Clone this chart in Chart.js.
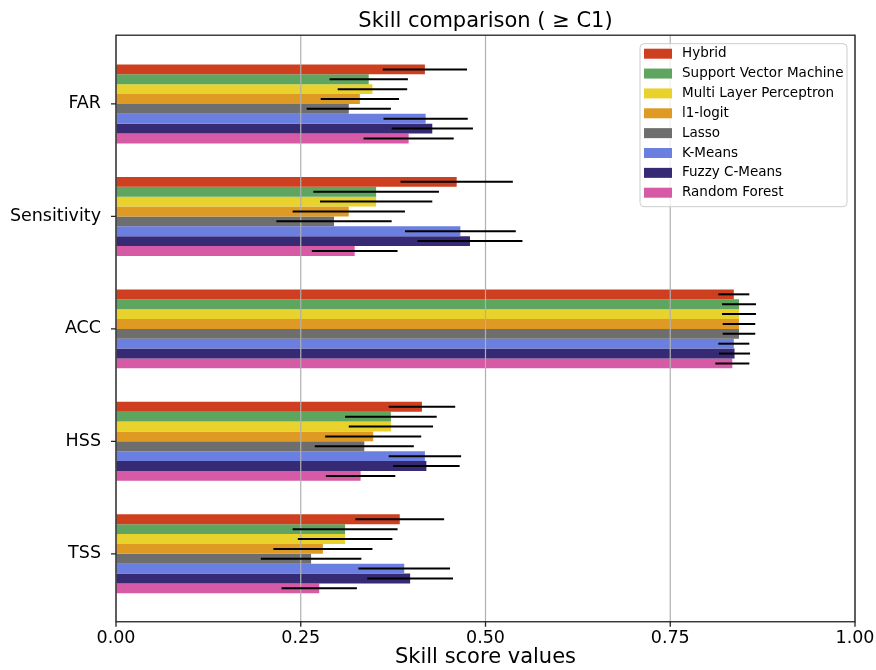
<!DOCTYPE html>
<html>
<head>
<meta charset="utf-8">
<script src="https://cdn.jsdelivr.net/npm/chart.js@4.4.1/dist/chart.umd.min.js"></script>
<style>
  html, body { margin: 0; padding: 0; background: #ffffff; }
  #wrap { width: 876px; height: 670px; }
</style>
</head>
<body>
<div id="wrap"><canvas id="chart" width="876" height="670"></canvas></div>
<script>
const categories = ['FAR', 'Sensitivity', 'ACC', 'HSS', 'TSS'];
const methods = ['Hybrid', 'Support Vector Machine', 'Multi Layer Perceptron', 'l1-logit',
                 'Lasso', 'K-Means', 'Fuzzy C-Means', 'Random Forest'];
const colors = ['#cd3f1f', '#5ea65f', '#e9d22c', '#df9a24', '#6e6e6e', '#6a7fe0', '#372a74', '#d65aa6'];

// scores per method, same order as categories
const hybrid   = [0.418, 0.461, 0.836, 0.414, 0.384];
const svm      = [0.342, 0.352, 0.843, 0.372, 0.310];
const mlp      = [0.347, 0.352, 0.843, 0.372, 0.310];
const l1logit  = [0.330, 0.315, 0.843, 0.348, 0.280];
const lasso    = [0.315, 0.295, 0.843, 0.336, 0.264];
const kmeans   = [0.419, 0.466, 0.836, 0.418, 0.390];
const fuzzy    = [0.428, 0.479, 0.837, 0.420, 0.398];
const rforest  = [0.396, 0.323, 0.834, 0.331, 0.275];

// half width of the error bars
const hybridErr  = [0.057, 0.076, 0.021, 0.045, 0.060];
const svmErr     = [0.053, 0.085, 0.023, 0.062, 0.071];
const mlpErr     = [0.047, 0.076, 0.023, 0.057, 0.064];
const l1logitErr = [0.053, 0.076, 0.022, 0.065, 0.067];
const lassoErr   = [0.057, 0.078, 0.022, 0.067, 0.068];
const kmeansErr  = [0.057, 0.075, 0.021, 0.049, 0.062];
const fuzzyErr   = [0.055, 0.071, 0.021, 0.045, 0.058];
const rforestErr = [0.061, 0.058, 0.023, 0.047, 0.051];

const xTicks = [0, 0.25, 0.5, 0.75, 1];

const scores = [hybrid, svm, mlp, l1logit, lasso, kmeans, fuzzy, rforest];
const errors = [hybridErr, svmErr, mlpErr, l1logitErr, lassoErr, kmeansErr, fuzzyErr, rforestErr];

Chart.defaults.font.family = '"DejaVu Sans", sans-serif';
Chart.defaults.color = '#000';

// matplotlib style: frame a bit larger than the bar area, grid over bars, error bars, legend box
const skillPlugin = {
    id: 'skill',
    afterDatasetsDraw(chart) {
        const { ctx, chartArea: a, scales: { x, y } } = chart;
        const top = a.top - 12.5;
        const bottom = a.bottom + 11.7;
        ctx.save();

        ctx.strokeStyle = '#b0b0b0';
        ctx.lineWidth = 1.2;
        xTicks.forEach(v => {
            const px = x.getPixelForValue(v);
            ctx.beginPath();
            ctx.moveTo(px, top);
            ctx.lineTo(px, bottom);
            ctx.stroke();
        });

        ctx.strokeStyle = '#000';
        ctx.lineWidth = 2;
        chart.data.datasets.forEach((ds, i) => {
            chart.getDatasetMeta(i).data.forEach((bar, j) => {
                const v = ds.data[j];
                const e = errors[i][j];
                ctx.beginPath();
                ctx.moveTo(x.getPixelForValue(v - e), bar.y);
                ctx.lineTo(x.getPixelForValue(v + e), bar.y);
                ctx.stroke();
            });
        });

        ctx.strokeStyle = '#222';
        ctx.lineWidth = 1.3;
        ctx.strokeRect(a.left, top, a.right - a.left, bottom - top);
        ctx.beginPath();
        xTicks.forEach(v => {
            const px = x.getPixelForValue(v);
            ctx.moveTo(px, bottom);
            ctx.lineTo(px, bottom + 5);
        });
        categories.forEach((c, i) => {
            const py = y.getPixelForValue(i);
            ctx.moveTo(a.left - 5, py);
            ctx.lineTo(a.left, py);
        });
        ctx.stroke();

        // legend
        const lw = 207, lh = 163;
        const lx = a.right - 8 - lw;
        const ly = top + 8.5;
        ctx.fillStyle = 'rgba(255,255,255,0.8)';
        ctx.strokeStyle = '#cccccc';
        ctx.lineWidth = 1;
        ctx.beginPath();
        ctx.roundRect(lx, ly, lw, lh, 4);
        ctx.fill();
        ctx.stroke();
        ctx.font = '13.5px "DejaVu Sans"';
        ctx.textBaseline = 'middle';
        ctx.textAlign = 'left';
        methods.forEach((m, i) => {
            const cy = ly + 10 + i * 19.86;
            ctx.fillStyle = colors[i];
            ctx.fillRect(lx + 4, cy - 5, 28, 10);
            ctx.fillStyle = '#000';
            ctx.fillText(m, lx + 42, cy);
        });

        ctx.restore();
    }
};

new Chart(document.getElementById('chart'), {
    type: 'bar',
    data: {
        labels: categories,
        datasets: methods.map((m, i) => ({
            label: m,
            data: scores[i],
            backgroundColor: colors[i],
            borderWidth: 0,
            barPercentage: 1,
            categoryPercentage: 0.702
        }))
    },
    options: {
        indexAxis: 'y',
        responsive: false,
        animation: false,
        devicePixelRatio: 1,
        layout: { padding: { left: 0, right: 21, top: 0, bottom: 0 } },
        scales: {
            x: {
                type: 'linear',
                min: 0,
                max: 1,
                afterFit(s) {
                    s.height = 59.95;
                    s.paddingLeft = 0;
                    s.paddingRight = 0;
                },
                grid: { display: false, drawTicks: false },
                border: { display: false },
                ticks: {
                    stepSize: 0.25,
                    padding: 18,
                    font: { size: 17.5 },
                    callback: v => v.toFixed(2)
                },
                title: {
                    display: true,
                    text: 'Skill score values',
                    font: { size: 21 },
                    padding: { top: 0, bottom: 0 }
                }
            },
            y: {
                afterFit(s) { s.width = 116; },
                grid: { display: false, drawTicks: false },
                border: { display: false },
                ticks: { padding: 15, font: { size: 17.5 } }
            }
        },
        plugins: {
            legend: { display: false },
            tooltip: { enabled: false },
            title: {
                display: true,
                fullSize: false,
                text: 'Skill comparison ( \u2265 C1)',
                font: { size: 21, weight: 'normal' },
                padding: { top: 9, bottom: 13.5 }
            }
        }
    },
    plugins: [skillPlugin]
});
</script>
</body>
</html>
